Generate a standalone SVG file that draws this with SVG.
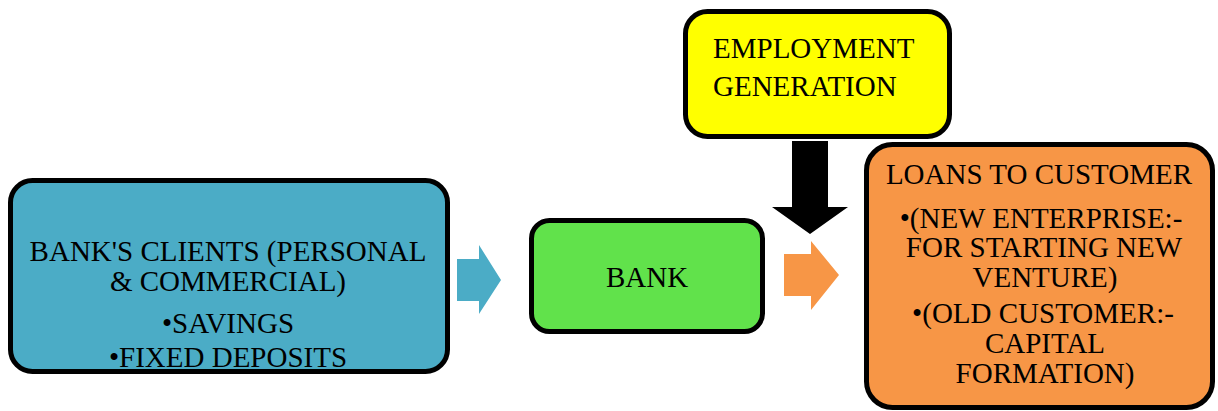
<svg xmlns="http://www.w3.org/2000/svg" width="1218" height="411" viewBox="0 0 1218 411">
  <style>
    .box-fill { stroke: none; }
    .box-line { fill: none; stroke: #000; stroke-width: 5; }
    .label { font-family: "Liberation Serif", "Times New Roman", serif; font-size: 29px; fill: #000; }
    .mid { text-anchor: middle; }
  </style>
  <rect x="0" y="0" width="1218" height="411" fill="#fff"/>

  <!-- connectors: block arrows between the stages -->
  <g id="connectors">
    <polygon id="arrow-clients-bank" fill="#4BACC6" points="457,259 479,259 479,245 501,280 479,314 479,301 457,301"/>
    <polygon id="arrow-bank-loans" fill="#F79646" points="784,254 811,254 811,241 839,275 811,310 811,296 784,296"/>
    <polygon id="arrow-employment" fill="#000" points="792,141 828,141 828,207 848,207 810,234 772,207 792,207"/>
  </g>

  <!-- bank's clients -->
  <g id="node-clients">
    <rect class="box-fill" x="10.5" y="180.5" width="437" height="191" rx="22" fill="#4BACC6"/>
    <text class="label mid" x="228" y="261">BANK'S CLIENTS (PERSONAL</text>
    <text class="label mid" x="228" y="291">&amp; COMMERCIAL)</text>
    <text class="label mid" x="228" y="333">•SAVINGS</text>
    <text class="label mid" x="228" y="367">•FIXED DEPOSITS</text>
    <rect class="box-line" x="10.5" y="180.5" width="437" height="191" rx="22"/>
  </g>

  <!-- bank -->
  <g id="node-bank">
    <rect class="box-fill" x="531.5" y="220.5" width="231" height="111" rx="18" fill="#61E24B"/>
    <text class="label mid" x="647" y="287">BANK</text>
    <rect class="box-line" x="531.5" y="220.5" width="231" height="111" rx="18"/>
  </g>

  <!-- employment generation -->
  <g id="node-employment">
    <rect class="box-fill" x="685.5" y="11.5" width="264" height="125" rx="22" fill="#FFFF00"/>
    <text class="label" x="713" y="58">EMPLOYMENT</text>
    <text class="label" x="713" y="96">GENERATION</text>
    <rect class="box-line" x="685.5" y="11.5" width="264" height="125" rx="22"/>
  </g>

  <!-- loans to customer -->
  <g id="node-loans">
    <rect class="box-fill" x="866.5" y="144.5" width="346" height="263" rx="26" fill="#F79646"/>
    <text class="label mid" x="1039" y="184">LOANS TO CUSTOMER</text>
    <text class="label mid" x="1041" y="228">•(NEW ENTERPRISE:-</text>
    <text class="label mid" x="1044" y="257">FOR STARTING NEW</text>
    <text class="label mid" x="1045" y="287">VENTURE)</text>
    <text class="label mid" x="1043" y="323">•(OLD CUSTOMER:-</text>
    <text class="label mid" x="1045" y="353">CAPITAL</text>
    <text class="label mid" x="1045" y="383">FORMATION)</text>
    <rect class="box-line" x="866.5" y="144.5" width="346" height="263" rx="26"/>
  </g>
</svg>
